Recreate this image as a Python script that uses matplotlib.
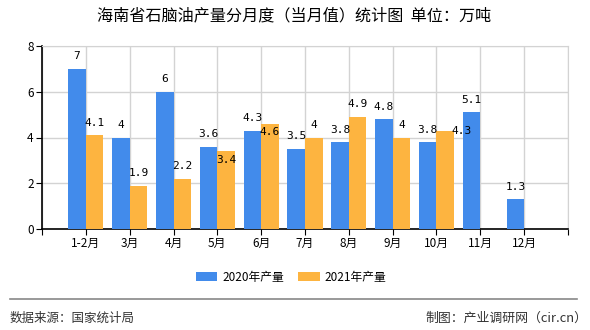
import matplotlib
matplotlib.use("Agg")
import matplotlib.pyplot as plt
import numpy as np

plt.rcParams['font.family'] = ['Noto Sans CJK SC', 'DejaVu Sans']

categories = ["1-2月", "3月", "4月", "5月", "6月", "7月", "8月", "9月", "10月", "11月", "12月"]
values_2020 = [7, 4, 6, 3.6, 4.3, 3.5, 3.8, 4.8, 3.8, 5.1, 1.3]
values_2021 = [4.1, 1.9, 2.2, 3.4, 4.6, 4, 4.9, 4, 4.3, None, None]
series_names = ["2020年产量", "2021年产量"]
title = "海南省石脑油产量分月度（当月值）统计图  单位：万吨"
source = "数据来源：国家统计局"
maker = "制图：产业调研网（cir.cn）"

c2020 = "#428BEB"
c2021 = "#FDB440"

fig = plt.figure(figsize=(5.9, 3.3), dpi=100)
ax = fig.add_axes([42/590, 1-229/330, (568-42)/590, (229-46)/330])

x = np.arange(1, len(categories) + 1)
w = 0.4
b1 = ax.bar(x - w/2, values_2020, w, color=c2020, label=series_names[0], zorder=3)
v21 = [np.nan if v is None else v for v in values_2021]
b2 = ax.bar(x + w/2, v21, w, color=c2021, label=series_names[1], zorder=3)

lab_font = dict(family="DejaVu Sans Mono", fontsize=8, color="black")
for xi, v in zip(x, values_2020):
    ax.annotate(f"{v:g}", (xi - w/2, v), xytext=(0, 9), textcoords="offset points",
                ha="center", va="center", zorder=5, **lab_font)
# per-label offsets (points) to mimic overlap avoidance in the reference
special = {3: (0, -6.5), 4: (0, -5.8), 8: (12, 0)}
for i, (xi, v) in enumerate(zip(x, values_2021)):
    if v is None:
        continue
    off = special.get(i, (0, 9))
    ax.annotate(f"{v:g}", (xi + w/2, v), xytext=off, textcoords="offset points",
                ha="center", va="center", zorder=5, **lab_font)

ax.set_xlim(0, 12)
ax.set_ylim(0, 8)
ax.set_yticks([0, 2, 4, 6, 8])
ax.set_xticks(np.arange(0, 13))
ax.set_xticklabels([""] + categories + [""])
ax.tick_params(axis="both", labelsize=8.5, length=4, color="black", pad=2)
ax.grid(True, color="#D3D3D3", linewidth=1, zorder=0)
ax.set_axisbelow(True)
for s in ["top", "right"]:
    ax.spines[s].set_color("#D3D3D3")
for s in ["left", "bottom"]:
    ax.spines[s].set_color("black")
    ax.spines[s].set_linewidth(1.2)

fig.text(294/590, 1 - 16/330, title, ha="center", va="center", fontsize=11.6)

fig.legend(handles=[b1, b2], labels=series_names, loc="center",
           bbox_to_anchor=(291/590, 1 - 277/330), ncol=2, frameon=False,
           fontsize=8.5, handlelength=1.85, handleheight=0.7, columnspacing=1.2,
           handletextpad=0.4)

fig.add_artist(plt.Line2D([10/590, 577/590], [1 - 299/330, 1 - 299/330],
                          color="#888888", linewidth=1.2))
fig.text(10/590, 1 - 318/330, source, ha="left", va="center", fontsize=9, color="#333333")
fig.text(587/590, 1 - 318/330, maker, ha="right", va="center", fontsize=9.3, color="#333333")

fig.savefig("out.png", dpi=100)
